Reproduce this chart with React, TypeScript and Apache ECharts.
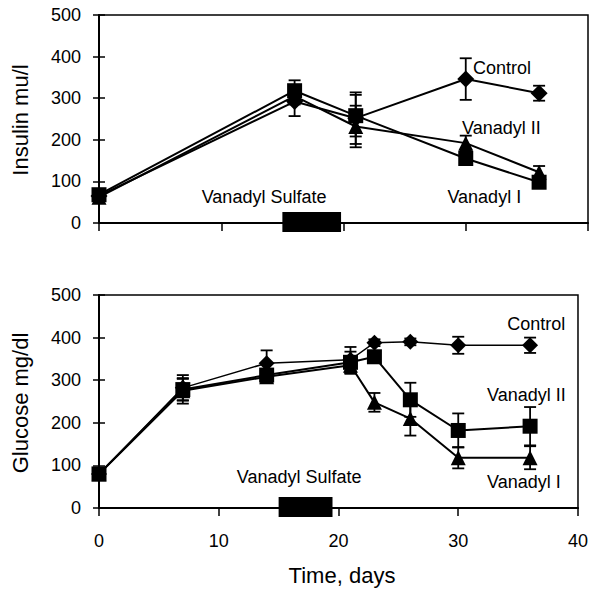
import React, { useEffect, useRef } from "react";
import * as echarts from "echarts";

// ---- Data ----
const insulinDays = [0, 16, 21, 30, 36];
const insulinControl = [65, 292, 252, 346, 312];
const insulinControlErr = [10, 35, 62, 50, 18];
const insulinSquare = [68, 318, 258, 155, 98];
const insulinSquareErr = [10, 25, 50, 10, 10];
const insulinTriangle = [62, 305, 232, 192, 122];
const insulinTriangleErr = [10, 20, 50, 18, 15];

const glucoseDays = [0, 7, 14, 21, 23, 26, 30, 36];
const glucoseControl = [80, 282, 340, 348, 388, 390, 382, 382];
const glucoseControlErr = [8, 30, 30, 30, 8, 8, 20, 18];
const glucoseSquare = [80, 278, 312, 342, 355, 254, 182, 192];
const glucoseSquareErr = [8, 25, 10, 25, 10, 40, 40, 45];
const glucoseTriangle = [80, 275, 308, 335, 248, 210, 118, 118];
const glucoseTriangleErr = [8, 30, 10, 20, 22, 40, 25, 27];

const yTicks = [0, 100, 200, 300, 400, 500];
const xTicks = [0, 10, 20, 30, 40];

const treatmentTop = [15, 19.8];
const treatmentBottom = [15, 19.5];

// annotation labels: [day, value, text]
const insulinLabels: [number, number, string][] = [
  [30.6, 372, "Control"],
  [29.7, 228, "Vanadyl II"],
  [28.5, 62, "Vanadyl I"],
  [8.4, 62, "Vanadyl Sulfate"],
];
const glucoseLabels: [number, number, string][] = [
  [34.1, 432, "Control"],
  [32.4, 265, "Vanadyl II"],
  [32.4, 61, "Vanadyl I"],
  [11.5, 73, "Vanadyl Sulfate"],
];

const FONT = "Liberation Sans, Arial, sans-serif";

function pairs(days: number[], vals: number[]) {
  return days.map((d, i) => [d, vals[i]]);
}
function errs(days: number[], vals: number[], e: number[]) {
  return days.map((d, i) => [d, vals[i] - e[i], vals[i] + e[i]]);
}

export default function App() {
  const ref = useRef<HTMLDivElement>(null);
  useEffect(() => {
    if (!ref.current) return;
    const chart = echarts.init(ref.current, null, { renderer: "svg" });

    const errRender = (params: any, api: any) => {
      const x = api.value(0);
      const lo = api.coord([x, api.value(1)]);
      const hi = api.coord([x, api.value(2)]);
      const cap = 6;
      const st = { stroke: "#000", lineWidth: 1.8 };
      return {
        type: "group",
        children: [
          { type: "line", shape: { x1: lo[0], y1: lo[1], x2: hi[0], y2: hi[1] }, style: st },
          { type: "line", shape: { x1: lo[0] - cap, y1: lo[1], x2: lo[0] + cap, y2: lo[1] }, style: st },
          { type: "line", shape: { x1: hi[0] - cap, y1: hi[1], x2: hi[0] + cap, y2: hi[1] }, style: st },
        ],
      };
    };

    const barRender = (params: any, api: any) => {
      const a = api.coord([api.value(0), 0]);
      const b = api.coord([api.value(1), 0]);
      return {
        type: "rect",
        shape: { x: a[0], y: a[1] - 11, width: b[0] - a[0], height: 20 },
        style: { fill: "#000" },
      };
    };

    const makeLabelRender = (labels: [number, number, string][]) => (params: any, api: any) => {
      const p = api.coord([api.value(0), api.value(1)]);
      return {
        type: "text",
        x: p[0],
        y: p[1],
        style: {
          text: labels[params.dataIndex][2],
          font: `18px ${FONT}`,
          fill: "#000",
          align: "left",
          verticalAlign: "middle",
        },
      };
    };

    const lineSeries = (name: string, xi: number, yi: number, data: number[][], symbol: string, size: number, width: number) => ({
      name,
      type: "line",
      xAxisIndex: xi,
      yAxisIndex: yi,
      data,
      symbol,
      symbolSize: size,
      itemStyle: { color: "#000" },
      lineStyle: { color: "#000", width },
      z: 5,
    });

    const errSeries = (xi: number, yi: number, data: number[][]) => ({
      type: "custom",
      xAxisIndex: xi,
      yAxisIndex: yi,
      data,
      renderItem: errRender,
      z: 4,
    });

    const xAxisBase = (gi: number, showLabel: boolean) => ({
      type: "value",
      gridIndex: gi,
      min: xTicks[0],
      max: xTicks[xTicks.length - 1],
      interval: 10,
      axisLine: { show: true, onZero: false, lineStyle: { color: "#000", width: 2 } },
      axisTick: { show: true, length: 8, lineStyle: { color: "#000", width: 1.5 } },
      axisLabel: { show: showLabel, color: "#000", fontSize: 18, fontFamily: FONT, margin: 24 },
      splitLine: { show: false },
    });
    const yAxisBase = (gi: number) => ({
      type: "value",
      gridIndex: gi,
      position: "left",
      min: yTicks[0],
      max: yTicks[yTicks.length - 1],
      interval: 100,
      axisLine: { show: true, onZero: false, lineStyle: { color: "#000", width: 2 } },
      axisTick: { show: true, length: 6, lineStyle: { color: "#000", width: 1.5 } },
      axisLabel: { color: "#000", fontSize: 18, fontFamily: FONT, margin: 18 },
      splitLine: { show: false },
    });
    const yAxisInner = (gi: number) => ({
      type: "value",
      gridIndex: gi,
      position: "left",
      offset: 0,
      min: yTicks[0],
      max: yTicks[yTicks.length - 1],
      interval: 100,
      axisLine: { show: false },
      axisTick: { show: true, inside: true, length: 6, lineStyle: { color: "#000", width: 1.5 } },
      axisLabel: { show: false },
      splitLine: { show: false },
    });

    chart.setOption({
      animation: false,
      backgroundColor: "#fff",
      grid: [
        { left: 99, top: 15, width: 489, height: 208, show: true, borderColor: "#000", borderWidth: 1.5, backgroundColor: "transparent" },
        { left: 99, top: 295, width: 479, height: 213, show: true, borderColor: "#000", borderWidth: 1.5, backgroundColor: "transparent" },
      ],
      xAxis: [xAxisBase(0, false), xAxisBase(1, true)],
      yAxis: [yAxisBase(0), yAxisInner(0), yAxisBase(1), yAxisInner(1)],
      graphic: [
        {
          type: "text",
          x: 20,
          y: 120,
          rotation: Math.PI / 2,
          style: { text: "Insulin mu/l", font: `22px ${FONT}`, fill: "#000", align: "center", verticalAlign: "middle" },
        },
        {
          type: "text",
          x: 20,
          y: 403,
          rotation: Math.PI / 2,
          style: { text: "Glucose mg/dl", font: `22px ${FONT}`, fill: "#000", align: "center", verticalAlign: "middle" },
        },
        {
          type: "text",
          x: 342,
          y: 575,
          style: { text: "Time, days", font: `22px ${FONT}`, fill: "#000", align: "center", verticalAlign: "middle" },
        },
      ],
      series: [
        // insulin
        errSeries(0, 0, errs(insulinDays, insulinControl, insulinControlErr)),
        errSeries(0, 0, errs(insulinDays, insulinSquare, insulinSquareErr)),
        errSeries(0, 0, errs(insulinDays, insulinTriangle, insulinTriangleErr)),
        lineSeries("Control", 0, 0, pairs(insulinDays, insulinControl), "diamond", 17, 2),
        lineSeries("Vanadyl I", 0, 0, pairs(insulinDays, insulinSquare), "rect", 15, 2),
        lineSeries("Vanadyl II", 0, 0, pairs(insulinDays, insulinTriangle), "triangle", 15, 2),
        { type: "custom", xAxisIndex: 0, yAxisIndex: 0, data: [treatmentTop], renderItem: barRender, clip: false, z: 6 },
        { type: "custom", xAxisIndex: 0, yAxisIndex: 0, data: insulinLabels.map((l) => [l[0], l[1]]), renderItem: makeLabelRender(insulinLabels), z: 7 },
        // glucose
        errSeries(1, 2, errs(glucoseDays, glucoseControl, glucoseControlErr)),
        errSeries(1, 2, errs(glucoseDays, glucoseSquare, glucoseSquareErr)),
        errSeries(1, 2, errs(glucoseDays, glucoseTriangle, glucoseTriangleErr)),
        lineSeries("Control", 1, 2, pairs(glucoseDays, glucoseControl), "diamond", 16, 1.5),
        lineSeries("Vanadyl II", 1, 2, pairs(glucoseDays, glucoseSquare), "rect", 15, 2),
        lineSeries("Vanadyl I", 1, 2, pairs(glucoseDays, glucoseTriangle), "triangle", 15, 2),
        { type: "custom", xAxisIndex: 1, yAxisIndex: 2, data: [treatmentBottom], renderItem: barRender, clip: false, z: 6 },
        { type: "custom", xAxisIndex: 1, yAxisIndex: 2, data: glucoseLabels.map((l) => [l[0], l[1]]), renderItem: makeLabelRender(glucoseLabels), z: 7 },
      ],
    });
    return () => chart.dispose();
  }, []);
  return (
    <div
      ref={ref}
      style={{ position: "fixed", left: 0, top: 0, width: 591, height: 594, background: "#fff" }}
    />
  );
}
